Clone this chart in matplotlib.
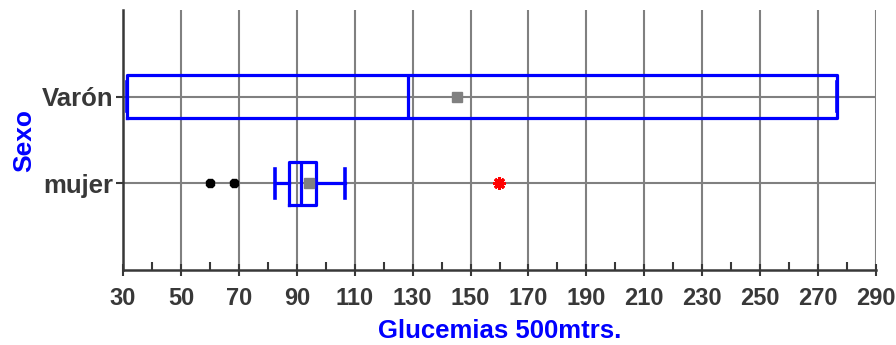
import numpy as np
import matplotlib.pyplot as plt
from matplotlib.ticker import MultipleLocator

# ----------------------------------------------------------------------------
# Data
# ----------------------------------------------------------------------------
categories = ["mujer", "Varón"]
q1 = [87.3, 31.4]
median = [91.5, 128.4]
q3 = [96.6, 276.5]
whis_lo = [82.5, 31.4]
whis_hi = [106.7, 276.5]
means = [94.2, 145.3]

# outliers of the "mujer" group
mild_out = [60.0, 68.3]
extreme_out = [159.8]

x_ticks = list(range(30, 291, 20))

BLUE = "#0000ff"
GRAY = "#808080"
DARK = "#383838"
FONT = ["Liberation Sans Narrow", "Liberation Sans", "DejaVu Sans"]

plt.rcParams["font.family"] = FONT

fig = plt.figure(figsize=(8.96, 3.45), dpi=100)
ax = fig.add_axes([0.1373, 0.2174, 0.8404, 0.7536])

stats = []
for i, name in enumerate(categories):
    stats.append({"label": name, "q1": q1[i], "med": median[i], "q3": q3[i],
                  "whislo": whis_lo[i], "whishi": whis_hi[i],
                  "mean": means[i], "fliers": []})

pos = np.arange(1, len(categories) + 1)
ax.bxp(stats, positions=pos, vert=False, widths=0.5, capwidths=0.34,
       showmeans=True, showfliers=False,
       boxprops=dict(color=BLUE, linewidth=2.3),
       medianprops=dict(color=BLUE, linewidth=2.3),
       whiskerprops=dict(color=BLUE, linewidth=2.3),
       capprops=dict(color=BLUE, linewidth=2.6),
       meanprops=dict(marker="s", markerfacecolor=GRAY, markeredgecolor=GRAY,
                      markersize=7),
       zorder=3)

ax.plot(mild_out, [pos[0]] * len(mild_out), "8", color="black",
        markersize=7, zorder=4)
ax.plot(extreme_out, [pos[0]] * len(extreme_out), marker=(8, 2, 0),
        linestyle="none", color="red", markersize=9, markeredgewidth=2.2,
        zorder=4)

ax.set_xlim(30, 290)
ax.set_ylim(0, 3)
ax.set_xticks(x_ticks)
ax.xaxis.set_minor_locator(MultipleLocator(10))
ax.set_yticks(pos)
ax.set_yticklabels(categories)

ax.grid(True, which="major", color=GRAY, linewidth=1.5, zorder=0)
ax.set_axisbelow(True)
for s in ["top", "right"]:
    ax.spines[s].set_visible(False)
for s in ["left", "bottom"]:
    ax.spines[s].set_color(DARK)
    ax.spines[s].set_linewidth(1.8)

ax.tick_params(axis="x", which="major", direction="inout", length=8,
               width=1.5, color=DARK, pad=8, labelsize=17, labelcolor=DARK)
ax.tick_params(axis="x", which="minor", direction="in", length=6,
               width=1.5, color=DARK)
ax.tick_params(axis="y", direction="out", length=5, width=1.5, color=DARK,
               pad=2, labelsize=18.5, labelcolor=DARK)
for lab in ax.get_xticklabels() + ax.get_yticklabels():
    lab.set_fontweight("bold")

ax.set_xlabel("Glucemias 500mtrs.", color=BLUE, fontsize=18.5,
              fontweight="bold", labelpad=7)
ax.set_ylabel("Sexo", color=BLUE, fontsize=19, fontweight="bold",
              labelpad=4)

fig.savefig("out.png", dpi=100)
